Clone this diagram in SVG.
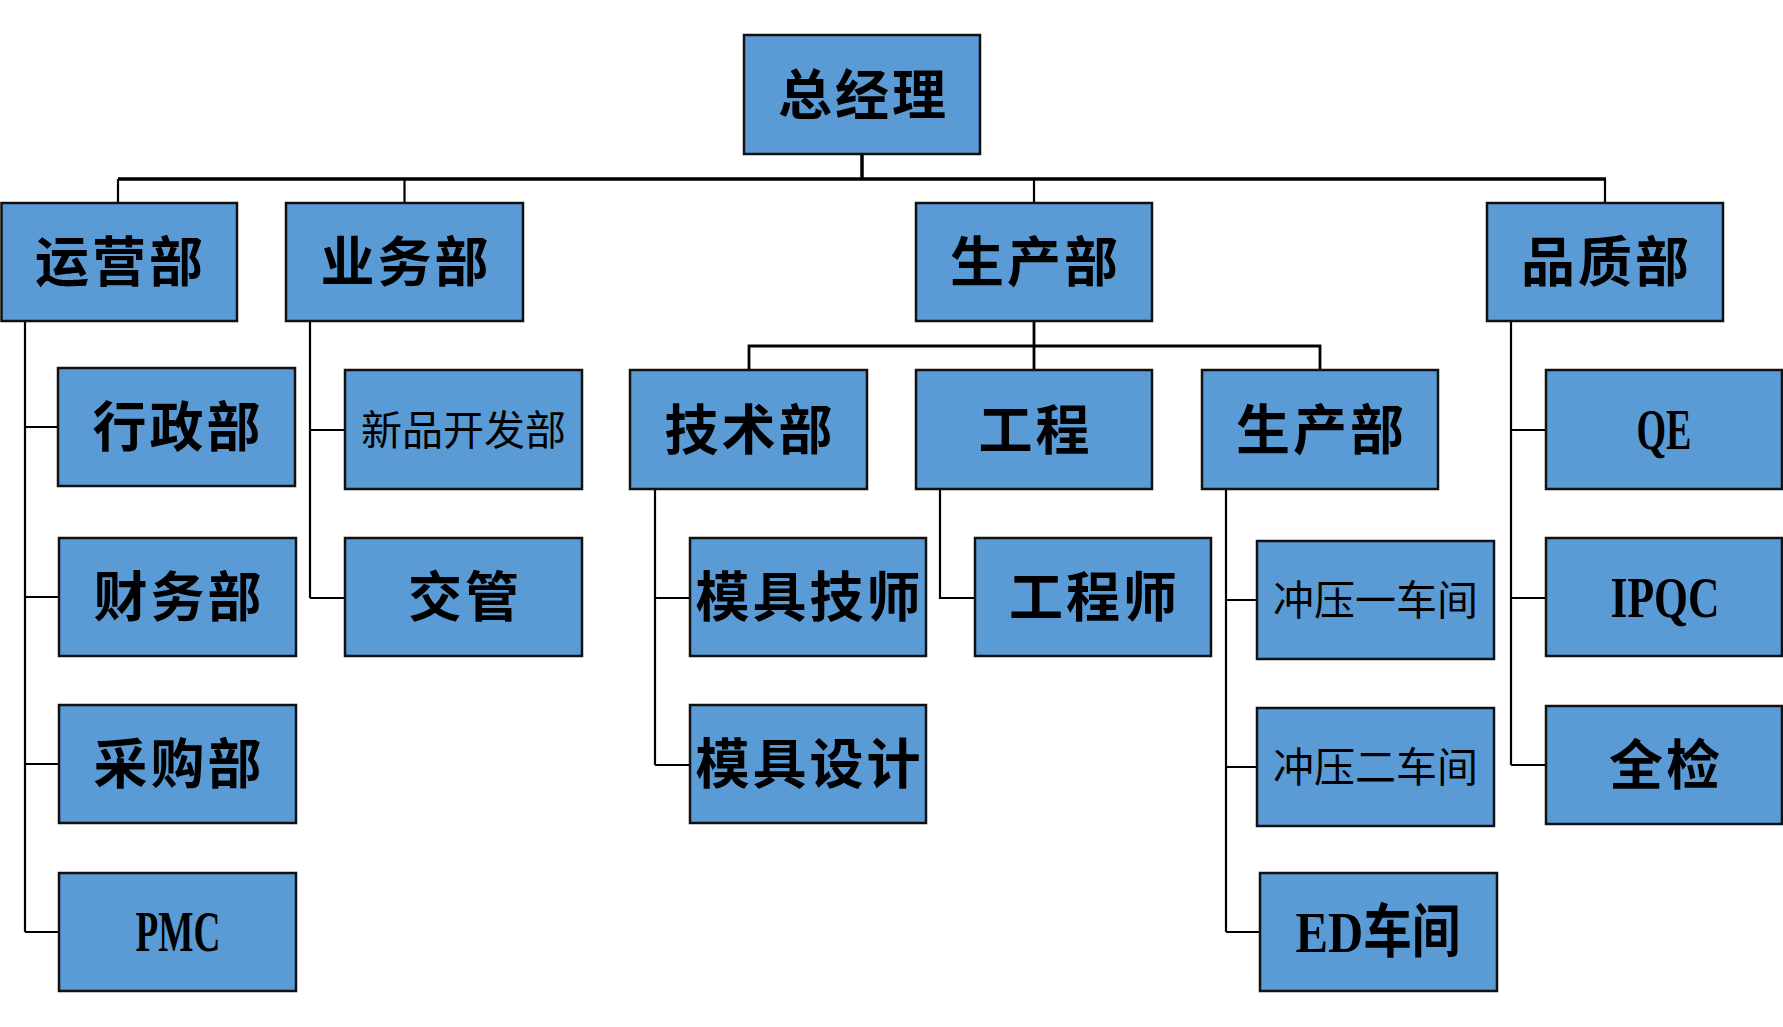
<svg xmlns="http://www.w3.org/2000/svg" width="1783" height="1027" viewBox="0 0 1783 1027">
<style>
.box{fill:#5B9BD5;stroke:#111;stroke-width:2.5}
.t{font-family:"Liberation Serif","Noto Sans CJK SC",serif;font-weight:bold;font-size:54px;letter-spacing:3px;fill:#000;text-anchor:middle}
.s{font-family:"Liberation Serif","Noto Sans CJK SC",serif;font-weight:normal;font-size:41px;fill:#000;text-anchor:middle}
.l{font-family:"Liberation Serif","Noto Sans CJK SC",serif;font-weight:bold;font-size:58px;fill:#000;text-anchor:middle}
.c{fill:none;stroke:#000;stroke-width:2.2}
.bus{fill:none;stroke:#000;stroke-width:3.5}
</style>
<rect width="1783" height="1027" fill="#fff"/>
<g id="connectors">
<path class="bus" d="M862 154V179M118 179H1606"/>
<path class="c" d="M118 179V203M404.5 179V203M1034 179V203M1605 179V203"/>
<path class="c" d="M25 321V932M25 427H58M25 597H59M25 764H59M25 932H59"/>
<path class="c" d="M310 321V598M310 430H345M310 598H345"/>
<path class="c" d="M1034 321V346M749 370V346H1320V370M1034 346V370" style="stroke-width:2.8"/>
<path class="c" d="M655 489V765M655 598H690M655 765H690"/>
<path class="c" d="M940 489V598H975"/>
<path class="c" d="M1226 489V932M1226 600H1257M1226 767H1257M1226 932H1260"/>
<path class="c" d="M1511 321V765M1511 430H1546M1511 598H1546M1511 765H1546"/>
</g>
<g id="n-zjl"><rect class="box" x="744" y="35" width="236" height="119"/><text class="t" x="863.5" y="114.5">总经理</text></g>
<g id="n-yyb"><rect class="box" x="1.5" y="203" width="235.5" height="118"/><text class="t" x="120.5" y="282">运营部</text></g>
<g id="n-ywb"><rect class="box" x="286" y="203" width="237" height="118"/><text class="t" x="406" y="282">业务部</text></g>
<g id="n-scb"><rect class="box" x="916" y="203" width="236" height="118"/><text class="t" x="1035.5" y="282">生产部</text></g>
<g id="n-pzb"><rect class="box" x="1487" y="203" width="236" height="118"/><text class="t" x="1606.5" y="282">品质部</text></g>
<g id="n-xzb"><rect class="box" x="58" y="368" width="237" height="118"/><text class="t" x="178" y="447">行政部</text></g>
<g id="n-cwb"><rect class="box" x="59" y="538" width="237" height="118"/><text class="t" x="179" y="617">财务部</text></g>
<g id="n-cgb"><rect class="box" x="59" y="705" width="237" height="118"/><text class="t" x="179" y="784">采购部</text></g>
<g id="n-pmc"><rect class="box" x="59" y="873" width="237" height="118"/><text class="l" x="178" y="951" textLength="85" lengthAdjust="spacingAndGlyphs">PMC</text></g>
<g id="n-xpkfb"><rect class="box" x="345" y="370" width="237" height="119"/><text class="s" x="463.5" y="444.5">新品开发部</text></g>
<g id="n-jg"><rect class="box" x="345" y="538" width="237" height="118"/><text class="t" x="465" y="617">交管</text></g>
<g id="n-jsb"><rect class="box" x="630" y="370" width="237" height="119"/><text class="t" x="750" y="449.5">技术部</text></g>
<g id="n-gc"><rect class="box" x="916" y="370" width="236" height="119"/><text class="t" x="1035.5" y="449.5">工程</text></g>
<g id="n-scb2"><rect class="box" x="1202" y="370" width="236" height="119"/><text class="t" x="1321.5" y="449.5">生产部</text></g>
<g id="n-mjjs"><rect class="box" x="690" y="538" width="236" height="118"/><text class="t" x="809.5" y="617">模具技师</text></g>
<g id="n-mjsj"><rect class="box" x="690" y="705" width="236" height="118"/><text class="t" x="809.5" y="784">模具设计</text></g>
<g id="n-gcs"><rect class="box" x="975" y="538" width="236" height="118"/><text class="t" x="1094.5" y="617">工程师</text></g>
<g id="n-cy1"><rect class="box" x="1257" y="541" width="237" height="118"/><text class="s" x="1375.5" y="615">冲压一车间</text></g>
<g id="n-cy2"><rect class="box" x="1257" y="708" width="237" height="118"/><text class="s" x="1375.5" y="782">冲压二车间</text></g>
<g id="n-ed"><rect class="box" x="1260" y="873" width="237" height="118"/><text class="l" x="1378" y="952" textLength="165" lengthAdjust="spacingAndGlyphs">ED车间</text></g>
<g id="n-qe"><rect class="box" x="1546" y="370" width="236" height="119"/><text class="l" x="1664" y="449" textLength="55" lengthAdjust="spacingAndGlyphs">QE</text></g>
<g id="n-ipqc"><rect class="box" x="1546" y="538" width="236" height="118"/><text class="l" x="1665" y="617" textLength="109" lengthAdjust="spacingAndGlyphs">IPQC</text></g>
<g id="n-qj"><rect class="box" x="1546" y="706" width="236" height="118"/><text class="t" x="1666" y="785">全检</text></g>
</svg>
